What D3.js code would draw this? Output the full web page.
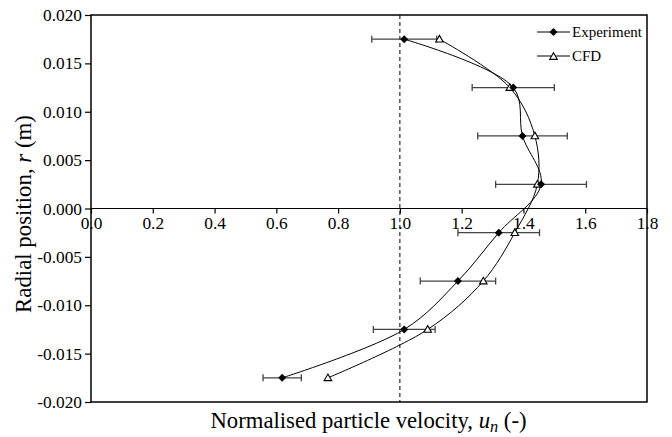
<!DOCTYPE html>
<html><head><meta charset="utf-8">
<script src="https://cdn.jsdelivr.net/npm/d3@7"></script>
<style>body{margin:0;background:#fff}svg{display:block}</style>
</head><body>
<svg id="c" width="672" height="437"></svg>
<script>
const radial = [0.0175, 0.0125, 0.0075, 0.0025, -0.0025, -0.0075, -0.0125, -0.0175];
const experiment = [1.014, 1.367, 1.397, 1.457, 1.320, 1.188, 1.014, 0.619];
const experimentErr = [0.105, 0.133, 0.145, 0.147, 0.132, 0.122, 0.100, 0.062];
const cfd = [1.128, 1.356, 1.437, 1.445, 1.372, 1.270, 1.090, 0.767];
const xTicks = [0, 0.2, 0.4, 0.6, 0.8, 1.0, 1.2, 1.4, 1.6, 1.8];
const yTicks = [0.020, 0.015, 0.010, 0.005, 0.000, -0.005, -0.010, -0.015, -0.020];

const FONT = "'Liberation Serif', Tinos, 'Times New Roman', Times, 'Noto Serif', 'DejaVu Serif', serif";
const svg = d3.select("#c");
const L = 91, R = 647, T = 15, B = 402;
const x = d3.scaleLinear().domain([0, 1.8]).range([L, R]);
const y = d3.scaleLinear().domain([-0.02, 0.02]).range([B, T]);

// scale a text's font size so that its rendered width matches the reference
function fit(sel, target, base) {
  const w = sel.node().getComputedTextLength();
  if (w > 0) sel.style("font-size", (base * target / w).toFixed(2) + "px");
}

// frame
svg.append("rect").attr("x", L).attr("y", T).attr("width", R - L).attr("height", B - T)
  .attr("fill", "none").attr("stroke", "#000").attr("stroke-width", 1.5);

// y axis
const ya = svg.append("g").attr("transform", `translate(${L},0)`)
  .call(d3.axisLeft(y).tickValues(yTicks).tickSize(6).tickPadding(3).tickFormat(d3.format(".3f")));
ya.attr("font-family", null);
ya.select(".domain").remove();
ya.selectAll("line").attr("stroke-width", 1.2);
const yLabels = ya.selectAll("text").style("font-family", FONT).style("font-size", "15px").attr("fill", "#000")
  .text(d => d3.format(".3f")(d).replace("−", "-"));

// x axis at y=0
const xa = svg.append("g").attr("transform", `translate(0,${y(0)})`)
  .call(d3.axisBottom(x).tickValues(xTicks).tickSize(5).tickPadding(3).tickFormat(d3.format(".1f")));
xa.attr("font-family", null);
xa.select(".domain").attr("stroke-width", 1.2).attr("d", `M${L},0H${R}`);
xa.selectAll("line").attr("stroke-width", 1.2);
const xLabels = xa.selectAll("text").style("font-family", FONT).style("font-size", "15px").attr("fill", "#000");

// tick label size: "0.020" is ~39px wide in the reference
const probe = ya.selectAll("text").filter(d => d === 0.02);
const tickSize = 15 * 39 / probe.node().getComputedTextLength();
yLabels.style("font-size", tickSize + "px");
xLabels.style("font-size", tickSize + "px");

// dashed line at 1.0
svg.append("line").attr("x1", x(1)).attr("x2", x(1)).attr("y1", T).attr("y2", B)
  .attr("stroke", "#000").attr("stroke-width", 1).attr("stroke-dasharray", "4,3");

const expData = radial.map((r, i) => ({ r, v: experiment[i], e: experimentErr[i] }));
const cfdData = radial.map((r, i) => ({ r, v: cfd[i] }));
const line = d3.line().x(d => x(d.v)).y(d => y(d.r)).curve(d3.curveCatmullRom.alpha(0.5));

// error bars
const eb = svg.append("g").attr("stroke", "#444").attr("stroke-width", 1.3);
expData.forEach(d => {
  eb.append("line").attr("x1", x(d.v - d.e)).attr("x2", x(d.v + d.e)).attr("y1", y(d.r)).attr("y2", y(d.r));
  [d.v - d.e, d.v + d.e].forEach(v => eb.append("line").attr("x1", x(v)).attr("x2", x(v))
    .attr("y1", y(d.r) - 3.5).attr("y2", y(d.r) + 3.5));
});

svg.append("path").datum(expData).attr("d", line).attr("fill", "none").attr("stroke", "#000").attr("stroke-width", 1);
svg.append("path").datum(cfdData).attr("d", line).attr("fill", "none").attr("stroke", "#000").attr("stroke-width", 1);

const diamond = (cx, cy, s) => `M${cx},${cy - s}L${cx + s},${cy}L${cx},${cy + s}L${cx - s},${cy}Z`;
const tri = (cx, cy, s) => `M${cx},${cy - s}L${cx + s},${cy + s * 0.75}L${cx - s},${cy + s * 0.75}Z`;

svg.append("g").selectAll("path").data(cfdData).join("path")
  .attr("d", d => tri(x(d.v), y(d.r), 3.8)).attr("fill", "#fff").attr("stroke", "#000").attr("stroke-width", 1.1);
svg.append("g").selectAll("path").data(expData).join("path")
  .attr("d", d => diamond(x(d.v), y(d.r), 4)).attr("fill", "#000");

// legend
const lg = svg.append("g");
lg.append("line").attr("x1", 537).attr("x2", 570).attr("y1", 32).attr("y2", 32).attr("stroke", "#000");
lg.append("path").attr("d", diamond(553.5, 32, 4)).attr("fill", "#000");
const lgExp = lg.append("text").attr("x", 572).attr("y", 37).style("font-family", FONT).style("font-size", "15px").text("Experiment");
lg.append("line").attr("x1", 537).attr("x2", 570).attr("y1", 56).attr("y2", 56).attr("stroke", "#000");
lg.append("path").attr("d", tri(553.5, 56.5, 3.8)).attr("fill", "#fff").attr("stroke", "#000").attr("stroke-width", 1.1);
const lgCfd = lg.append("text").attr("x", 572).attr("y", 61).style("font-family", FONT).style("font-size", "15px").text("CFD");
fit(lgExp, 70, 15);
lgCfd.style("font-size", lgExp.style("font-size"));

// axis titles
const xt = svg.append("text").attr("x", 368.5).attr("y", 428).attr("text-anchor", "middle")
  .style("font-family", FONT).style("font-size", "20px");
xt.append("tspan").text("Normalised particle velocity, ");
xt.append("tspan").style("font-style", "italic").text("u");
xt.append("tspan").style("font-style", "italic").style("font-size", "0.72em").attr("dy", 3.5).text("n");
xt.append("tspan").attr("dy", -3.5).text(" (-)");
fit(xt, 316, 20);

const yt = svg.append("text").attr("transform", `translate(31,214) rotate(-90)`)
  .attr("text-anchor", "middle").style("font-family", FONT).style("font-size", "20px");
yt.append("tspan").text("Radial position, ");
yt.append("tspan").style("font-style", "italic").text("r");
yt.append("tspan").text(" (m)");
fit(yt, 198, 20);
</script>
</body></html>
